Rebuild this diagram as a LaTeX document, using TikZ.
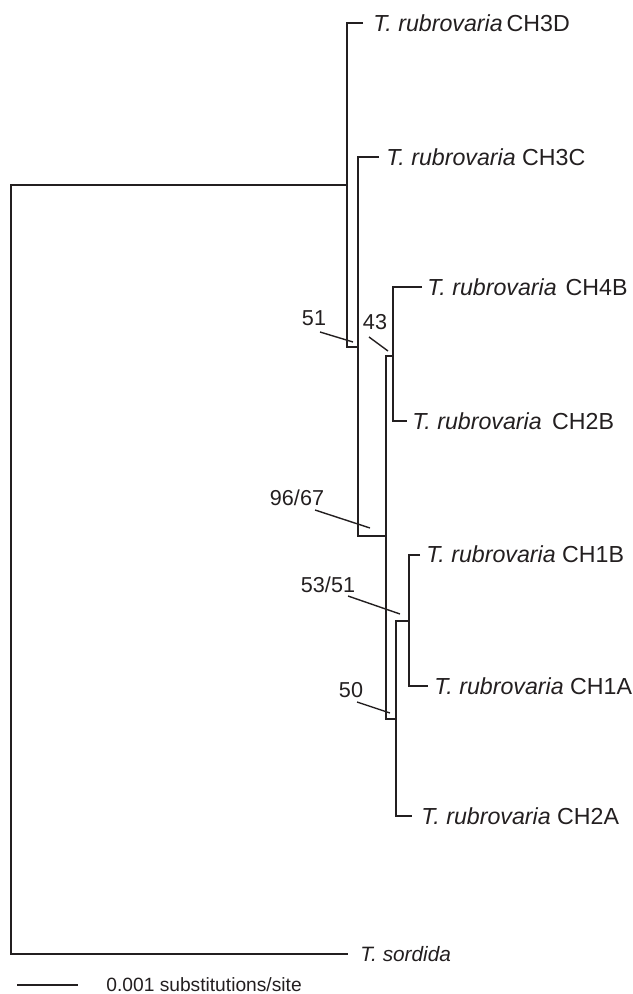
\documentclass[tikz,border=0pt]{standalone}
\usepackage{fontspec}
\setmainfont{Liberation Sans}
\definecolor{ink}{RGB}{35,31,32}
\begin{document}
\begin{tikzpicture}[x=0.5pt,y=-0.5pt,
  branch/.style={draw=ink,line width=1.3pt,line join=miter},
  leader/.style={draw=ink,line width=0.7pt},
  taxon/.style={anchor=west,inner sep=0pt,text=ink,font=\fontsize{11.6}{13}\selectfont},
  boot/.style={inner sep=0pt,text=ink,font=\fontsize{10.8}{12}\selectfont},
  scaletext/.style={anchor=west,inner sep=0pt,text depth=0pt,text=ink,font=\fontsize{9.6}{11}\selectfont}]
\useasboundingbox (0,0) rectangle (632,994);
% internal nodes
\coordinate (R) at (11,570);
\coordinate (A) at (347,185);
\coordinate (B) at (358,347);
\coordinate (C) at (386,536);
\coordinate (D) at (393,356);
\coordinate (E) at (396,719);
\coordinate (F) at (409,621);
% tips (ends of terminal branches)
\coordinate (t3d) at (363,23);
\coordinate (t3c) at (379,157);
\coordinate (t4b) at (422,287);
\coordinate (t2b) at (407,421);
\coordinate (t1b) at (420,555);
\coordinate (t1a) at (428,686);
\coordinate (t2a) at (412,816);
\coordinate (tsd) at (348,954);
% taxa
\node[taxon] (n3d) at (373,23) {\textit{T. rubrovaria}\,CH3D};
\node[taxon] (n3c) at (386,157) {\textit{T. rubrovaria} CH3C};
\node[taxon] (n4b) at (427,287) {\textit{T. rubrovaria}\hspace{1.2pt} CH4B};
\node[taxon] (n2b) at (412,421) {\textit{T. rubrovaria}\hspace{2pt} CH2B};
\node[taxon] (n1b) at (426,554) {\textit{T. rubrovaria} CH1B};
\node[taxon] (n1a) at (434,686) {\textit{T. rubrovaria} CH1A};
\node[taxon] (n2a) at (421,816) {\textit{T. rubrovaria} CH2A};
\node[taxon,font=\fontsize{10.4}{12}\selectfont] (nsd) at (360,954) {\textit{T. sordida}};
% branches
\draw[branch] (A) -| (R) |- (tsd);
\draw[branch] (t3d) -| (A) |- (B);
\draw[branch] (t3c) -| (B) |- (C);
\draw[branch] (D) -| (C) |- (E);
\draw[branch] (t4b) -| (D) |- (t2b);
\draw[branch] (F) -| (E) |- (t2a);
\draw[branch] (t1b) -| (F) |- (t1a);
% support values
\node[boot] (b51) at (314,318) {51};
\coordinate (b51a) at (320,332); \coordinate (b51b) at (353,342);
\draw[leader] (b51a) -- (b51b);
\node[boot] (b43) at (375,322) {43};
\coordinate (b43a) at (369,337); \coordinate (b43b) at (388,351);
\draw[leader] (b43a) -- (b43b);
\node[boot] (b96) at (297,498) {96/67};
\coordinate (b96a) at (315,510); \coordinate (b96b) at (370,528);
\draw[leader] (b96a) -- (b96b);
\node[boot] (b53) at (328,585) {53/51};
\coordinate (b53a) at (348,596); \coordinate (b53b) at (400,614);
\draw[leader] (b53a) -- (b53b);
\node[boot] (b50) at (351,690) {50};
\coordinate (b50a) at (357,702); \coordinate (b50b) at (390,713);
\draw[leader] (b50a) -- (b50b);
% scale bar
\coordinate (s1) at (17,985);
\coordinate (s2) at (78,985);
\draw[branch] (s1) -- (s2);
\node[scaletext] (st) at (106,985) {0.001 substitutions/site};
\end{tikzpicture}
\end{document}
